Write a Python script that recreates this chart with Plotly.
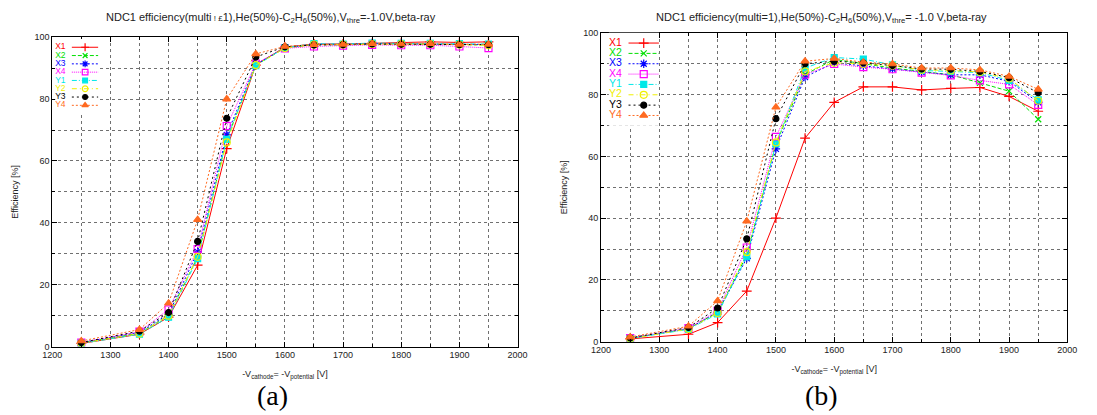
import plotly.graph_objects as go

# Cathode voltage scan points [V]
voltage = [1250, 1350, 1400, 1450, 1500, 1550, 1600, 1650, 1700, 1750, 1800, 1850, 1900, 1950]

# (a) efficiency, multi <= 1 [%]
a_X1 = [1.0, 4.0, 9.5, 26.3, 64.0, 91.0, 96.8, 97.8, 97.8, 98.0, 98.2, 98.5, 98.3, 98.5]
a_X2 = [1.2, 4.3, 10.0, 29.0, 67.0, 91.0, 96.5, 97.6, 97.5, 97.8, 97.8, 97.8, 97.6, 97.5]
a_X3 = [1.3, 4.6, 10.5, 30.6, 68.4, 91.2, 96.6, 97.7, 97.7, 98.0, 97.9, 97.9, 97.7, 97.6]
a_X4 = [1.3, 4.8, 12.0, 31.5, 71.3, 91.5, 96.4, 97.0, 97.3, 97.5, 97.4, 97.4, 97.0, 96.5]
a_Y1 = [1.0, 4.0, 9.5, 28.4, 67.0, 90.8, 96.6, 97.9, 97.8, 98.1, 98.0, 98.0, 97.9, 97.8]
a_Y2 = [1.1, 4.2, 10.0, 29.0, 66.0, 91.0, 96.5, 97.6, 97.6, 97.8, 97.8, 97.8, 97.6, 97.4]
a_Y3 = [1.3, 5.0, 11.0, 34.0, 73.8, 93.6, 96.9, 97.5, 97.6, 97.8, 97.7, 97.7, 97.6, 97.6]
a_Y4 = [1.8, 5.5, 14.0, 41.0, 80.0, 94.6, 97.0, 97.6, 97.7, 97.9, 97.8, 97.9, 97.7, 97.7]

# (b) efficiency, multi = 1 [%]
b_X1 = [0.9, 2.4, 6.2, 16.4, 40.0, 65.9, 77.5, 82.5, 82.5, 81.5, 82.0, 82.3, 79.4, 74.6]
b_X2 = [1.1, 4.2, 9.5, 28.0, 64.0, 86.5, 91.4, 89.9, 88.6, 87.5, 86.4, 83.8, 81.1, 72.0]
b_X3 = [1.1, 4.2, 9.5, 27.0, 62.4, 85.7, 90.3, 89.4, 88.3, 87.3, 86.4, 86.4, 84.3, 77.5]
b_X4 = [1.2, 4.4, 10.0, 30.5, 66.3, 86.5, 89.9, 88.9, 88.2, 87.1, 86.2, 84.6, 83.3, 76.7]
b_Y1 = [1.0, 4.0, 9.0, 27.5, 64.0, 88.6, 92.0, 91.5, 89.6, 87.8, 87.5, 87.1, 84.6, 78.3]
b_Y2 = [1.0, 4.1, 9.3, 29.0, 64.5, 87.5, 90.3, 89.9, 89.4, 88.0, 87.8, 87.3, 85.2, 78.0]
b_Y3 = [1.2, 4.6, 10.9, 33.3, 72.2, 90.0, 90.8, 90.3, 89.4, 88.3, 88.2, 87.5, 85.5, 80.6]
b_Y4 = [1.5, 5.0, 13.2, 39.0, 75.9, 90.8, 91.7, 90.5, 89.9, 88.6, 88.6, 88.0, 85.9, 81.7]

names = ["X1", "X2", "X3", "X4", "Y1", "Y2", "Y3", "Y4"]
series_a = [a_X1, a_X2, a_X3, a_X4, a_Y1, a_Y2, a_Y3, a_Y4]
series_b = [b_X1, b_X2, b_X3, b_X4, b_Y1, b_Y2, b_Y3, b_Y4]

colors = ["#ff0000", "#00e000", "#0000ff", "#ff00ff", "#00e8e8", "#f0f000", "#000000", "#ff6a20"]
dashes = ["solid", "4px,2px", "2px,2px", "1px,1px", "5px,2px,1px,2px", "5px,3px,1px,3px", "2px,3px", "2px,2px"]
symbols = ["cross-thin-open", "x-thin-open", "asterisk-open", "square-open",
           "square", "circle-open", "circle", "triangle-up"]
sizes = [7, 6, 7, 7, 6, 7, 6, 7]

FONT = "Liberation Sans, Arial, sans-serif"
W, H = 1097, 415

fig = go.Figure()


def add_panel(series, xa, ya):
    for name, ys, c, d, s, sz in zip(names, series, colors, dashes, symbols, sizes):
        fig.add_trace(go.Scatter(
            x=voltage, y=ys, xaxis=xa, yaxis=ya, name=name, showlegend=False,
            mode="lines+markers",
            line=dict(color=c, width=1, dash=d),
            marker=dict(symbol=s, size=sz, color=c, line=dict(color=c, width=1.2)),
        ))


add_panel(series_a, "x", "y")
add_panel(series_b, "x2", "y2")


def xaxis(domain, anchor):
    return dict(
        domain=domain, anchor=anchor, range=[1200, 2000], dtick=100, tick0=1200,
        showline=True, linecolor="black", linewidth=1, mirror="ticks",
        ticks="inside", ticklen=5, tickcolor="black",
        showgrid=True, gridcolor="#707070", griddash="dot", gridwidth=1,
        minor=dict(dtick=50, showgrid=True, gridcolor="#707070", griddash="dot",
                   ticks="inside", ticklen=3, tickcolor="black"),
        zeroline=False, tickfont=dict(family=FONT, size=9, color="#222"),
        title=dict(text="-V<sub>cathode</sub>= -V<sub>potential</sub> [V]",
                   font=dict(family=FONT, size=9, color="#222"), standoff=11),
    )


def yaxis(domain, anchor):
    return dict(
        domain=domain, anchor=anchor, range=[0, 100], dtick=20,
        showline=True, linecolor="black", linewidth=1, mirror="ticks",
        ticks="inside", ticklen=5, tickcolor="black",
        showgrid=True, gridcolor="#707070", griddash="dot", gridwidth=1,
        minor=dict(dtick=10, showgrid=True, gridcolor="#707070", griddash="dot",
                   ticks="inside", ticklen=3, tickcolor="black"),
        zeroline=False, tickfont=dict(family=FONT, size=9, color="#222"),
        title=dict(text="Efficiency [%]", font=dict(family=FONT, size=9, color="#222"),
                   standoff=14),
    )


xa_dom = [43 / W, 517 / W]
ya_dom = [1 - 350 / H, 1 - 33 / H]
xb_dom = [602 / W, 1077 / W]
yb_dom = [1 - 345 / H, 1 - 28.5 / H]

# Key boxes: label text on the left, line sample with marker on the right.
# Each key gets its own hidden axes measured in page pixels.
keys = [
    # label x, sample start, sample end, first row y, row step, label font, marker scale
    dict(lx=46, x0=63, x1=90, y0=43.3, dy=8.5, fs=8.5, ms=0.8),
    dict(lx=610, x0=630, x1=661, y0=39.0, dy=10.6, fs=10.5, ms=1.0),
]
key_axes = {}
for k, key in enumerate(keys):
    n = 3 + k
    top = key["y0"] - key["dy"]
    bot = key["y0"] + key["dy"] * len(names)
    key_axes[f"xaxis{n}"] = dict(domain=[key["lx"] / W, key["x1"] / W],
                                 range=[key["lx"], key["x1"]],
                                 visible=False, fixedrange=True, anchor=f"y{n}")
    key_axes[f"yaxis{n}"] = dict(domain=[1 - bot / H, 1 - top / H], range=[bot, top],
                                 visible=False, fixedrange=True, anchor=f"x{n}")
    mid = (key["x0"] + key["x1"]) / 2
    for i, (name, c, d, s, sz) in enumerate(zip(names, colors, dashes, symbols, sizes)):
        row = key["y0"] + key["dy"] * i
        fig.add_trace(go.Scatter(
            x=[key["x0"], mid, key["x1"]], y=[row, row, row],
            xaxis=f"x{n}", yaxis=f"y{n}",
            mode="lines+markers", showlegend=False, hoverinfo="skip",
            line=dict(color=c, width=1, dash=d),
            marker=dict(symbol=s, size=sz * key["ms"], color=c, opacity=[0, 1, 0],
                        line=dict(color=c, width=1.2)),
        ))
        fig.add_trace(go.Scatter(
            x=[key["lx"]], y=[row], xaxis=f"x{n}", yaxis=f"y{n}",
            mode="text", text=[name], textposition="middle right",
            textfont=dict(family=FONT, size=key["fs"], color=c),
            showlegend=False, hoverinfo="skip", cliponaxis=False,
        ))

fig.update_layout(
    width=W, height=H, margin=dict(l=0, r=0, t=0, b=0),
    paper_bgcolor="white", plot_bgcolor="white",
    font=dict(family=FONT, color="#222"),
    xaxis=xaxis(xa_dom, "y"), yaxis=yaxis(ya_dom, "x"),
    xaxis2=xaxis(xb_dom, "y2"), yaxis2=yaxis(yb_dom, "x2"),
    showlegend=False,
    **key_axes,
)

annotations = [
    dict(text="NDC1 efficiency(multi<span style='font-size:8px'> ! £</span>1),"
              "He(50%)-C<sub>2</sub>H<sub>6</sub>(50%),V<sub>thre</sub>=-1.0V,beta-ray",
         x=266 / W, y=1 - 13 / H, font=dict(family=FONT, size=11, color="#222")),
    dict(text="NDC1 efficiency(multi=1),He(50%)-C<sub>2</sub>H<sub>6</sub>(50%),"
              "V<sub>thre</sub>= -1.0 V,beta-ray",
         x=827 / W, y=1 - 13 / H, font=dict(family=FONT, size=11, color="#222")),
    dict(text="(a)", x=267 / W, y=1 - 400 / H,
         font=dict(family="Liberation Serif, serif", size=28, color="black")),
    dict(text="(b)", x=827 / W, y=1 - 400 / H,
         font=dict(family="Liberation Serif, serif", size=28, color="black")),
]
for a in annotations:
    fig.add_annotation(xref="paper", yref="paper", showarrow=False,
                       xanchor="center", yanchor="middle", **a)

fig.write_html("out.html")
